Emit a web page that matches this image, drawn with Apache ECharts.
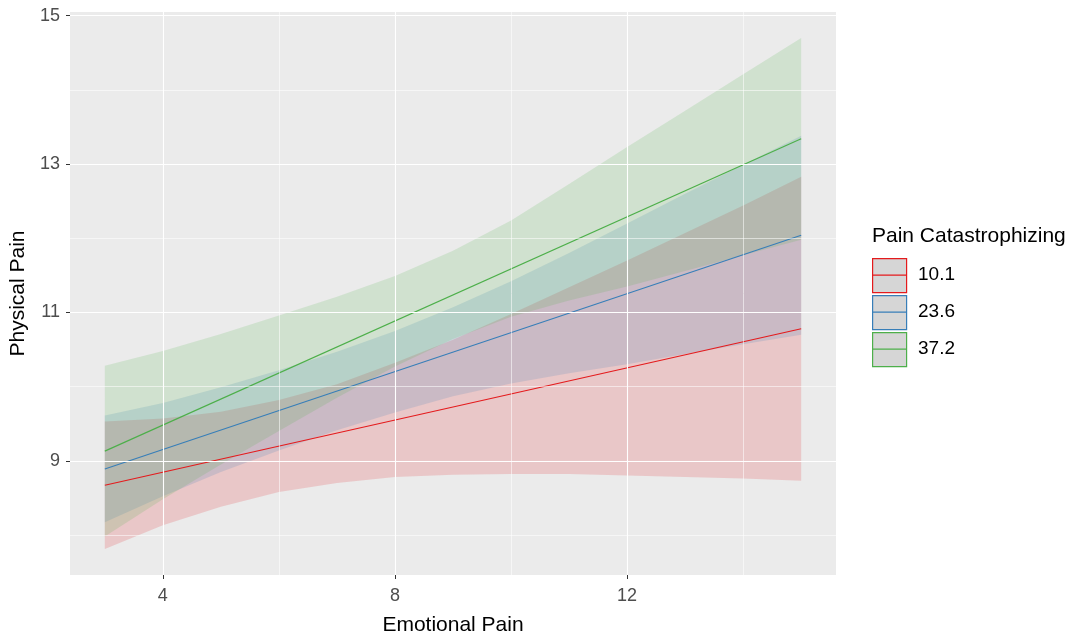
<!DOCTYPE html>
<html><head><meta charset="utf-8">
<script src="https://cdn.jsdelivr.net/npm/echarts@6/dist/echarts.min.js"></script>
<style>html,body{margin:0;padding:0;background:#fff}#c{width:1092px;height:641px}</style>
</head><body><div id="c"></div>
<script>
// ---- data ----
const groupNames = ['10.1', '23.6', '37.2'];
const legendTitle = 'Pain Catastrophizing';
const xs = [3, 4, 5, 6, 7, 8, 9, 10, 11, 12, 13, 14, 15];
const lineX = [3, 15];
const redLine = [8.67, 10.78];
const blueLine = [8.89, 12.04];
const greenLine = [9.13, 13.34];
const redLower = [7.81, 8.13, 8.38, 8.58, 8.70, 8.78, 8.81, 8.82, 8.82, 8.80, 8.78, 8.76, 8.73];
const redUpper = [9.53, 9.57, 9.66, 9.82, 10.03, 10.32, 10.63, 10.98, 11.34, 11.70, 12.07, 12.44, 12.83];
const blueLower = [8.17, 8.52, 8.85, 9.14, 9.41, 9.65, 9.87, 10.04, 10.18, 10.30, 10.44, 10.57, 10.70];
const blueUpper = [9.61, 9.78, 9.99, 10.22, 10.47, 10.75, 11.07, 11.42, 11.80, 12.20, 12.60, 12.99, 13.38];
const greenLower = [7.98, 8.48, 8.95, 9.40, 9.85, 10.27, 10.64, 10.94, 11.16, 11.35, 11.56, 11.77, 11.98];
const greenUpper = [10.28, 10.48, 10.71, 10.96, 11.21, 11.49, 11.83, 12.24, 12.73, 13.23, 13.72, 14.21, 14.70];
const xTicks = [4, 8, 12];
const xMinor = [6, 10, 14];
const yTicks = [9, 11, 13, 15];
const yMinor = [8, 10, 12, 14];

// ---- styling ----
const colors = ['#E41A1C', '#377EB8', '#4DAF4A'];
const fills = ['rgba(228,26,28,0.17)', 'rgba(55,126,184,0.17)', 'rgba(77,175,74,0.17)'];
const FONT = 'Liberation Sans, Arial, sans-serif';

const lowers = [redLower, blueLower, greenLower];
const uppers = [redUpper, blueUpper, greenUpper];
const lines = [redLine, blueLine, greenLine];

const series = [];
// gridlines (drawn through the axes' scales)
series.push({
  type: 'line', z: 1, silent: true, symbol: 'none',
  data: [[xs[0], redLine[0]]], lineStyle: { opacity: 0 },
  markLine: {
    silent: true, symbol: ['none', 'none'], label: { show: false }, animation: false,
    data: [
      ...xMinor.map(v => ({ xAxis: v, lineStyle: { color: '#fff', width: 0.55, type: 'solid' } })),
      ...yMinor.map(v => ({ yAxis: v, lineStyle: { color: '#fff', width: 0.55, type: 'solid' } })),
      ...xTicks.map(v => ({ xAxis: v, lineStyle: { color: '#fff', width: 1.1, type: 'solid' } })),
      ...yTicks.map(v => ({ yAxis: v, lineStyle: { color: '#fff', width: 1.1, type: 'solid' } }))
    ]
  }
});
// ribbons as polygons through the axis scales
groupNames.forEach((g, i) => {
  series.push({
    type: 'custom', name: g + ' band', z: 2, silent: true,
    data: xs.map((x, k) => [x, lowers[i][k], uppers[i][k]]),
    encode: { x: 0, y: [1, 2] },
    renderItem: (params, api) => {
      if (params.dataIndexInside !== 0) return null;
      const n = params.dataInsideLength;
      const top = [], bot = [];
      for (let k = 0; k < n; k++) {
        top.push(api.coord([api.value(0, k), api.value(2, k)]));
        bot.push(api.coord([api.value(0, k), api.value(1, k)]));
      }
      return {
        type: 'polygon',
        shape: { points: top.concat(bot.reverse()) },
        style: { fill: fills[i], stroke: null }
      };
    }
  });
});
// fitted lines
groupNames.forEach((g, i) => {
  series.push({
    type: 'line', name: g, z: 3, symbol: 'none', silent: true,
    data: lineX.map((x, k) => [x, lines[i][k]]),
    lineStyle: { color: colors[i], width: 1.1 }
  });
});

// legend drawn as graphics
const legendGraphics = [{
  type: 'text', left: 872, top: 226,
  style: { text: legendTitle, font: '21px ' + FONT, fill: '#000' }
}];
groupNames.forEach((g, i) => {
  const y = 258 + i * 37;
  legendGraphics.push({
    type: 'rect', left: 872, top: y,
    shape: { width: 34, height: 34 },
    style: { fill: '#D6D6D6', stroke: colors[i], lineWidth: 1.2 }
  });
  legendGraphics.push({
    type: 'rect', left: 873, top: y + 16.5,
    shape: { width: 33, height: 1.2 },
    style: { fill: colors[i] }
  });
  legendGraphics.push({
    type: 'text', left: 918, top: y + 7,
    style: { text: g, font: '19px ' + FONT, fill: '#000' }
  });
});

const chart = echarts.init(document.getElementById('c'), null, { renderer: 'canvas' });
chart.setOption({
  animation: false,
  backgroundColor: '#fff',
  grid: { left: 70, right: 256, top: 12, bottom: 65, show: true, backgroundColor: '#EBEBEB', borderWidth: 0 },
  xAxis: {
    type: 'value', min: 2.4, max: 15.6,
    name: 'Emotional Pain', nameLocation: 'middle', nameGap: 40,
    nameTextStyle: { fontFamily: FONT, fontSize: 21, color: '#000' },
    axisLine: { show: false },
    axisTick: { show: true, length: 4, customValues: xTicks, lineStyle: { color: '#333', width: 1 } },
    axisLabel: { customValues: xTicks, margin: 12, fontFamily: FONT, fontSize: 18, color: '#4D4D4D' },
    splitLine: { show: false }
  },
  yAxis: {
    type: 'value', min: 7.46, max: 15.05,
    name: 'Physical Pain', nameLocation: 'middle', nameGap: 38, nameRotate: 90,
    nameTextStyle: { fontFamily: FONT, fontSize: 21, color: '#000' },
    axisLine: { show: false },
    axisTick: { show: true, length: 4, customValues: yTicks, lineStyle: { color: '#333', width: 1 } },
    axisLabel: { customValues: yTicks, margin: 10, fontFamily: FONT, fontSize: 18, color: '#4D4D4D' },
    splitLine: { show: false }
  },
  graphic: legendGraphics,
  series: series
});
</script>
</body></html>
